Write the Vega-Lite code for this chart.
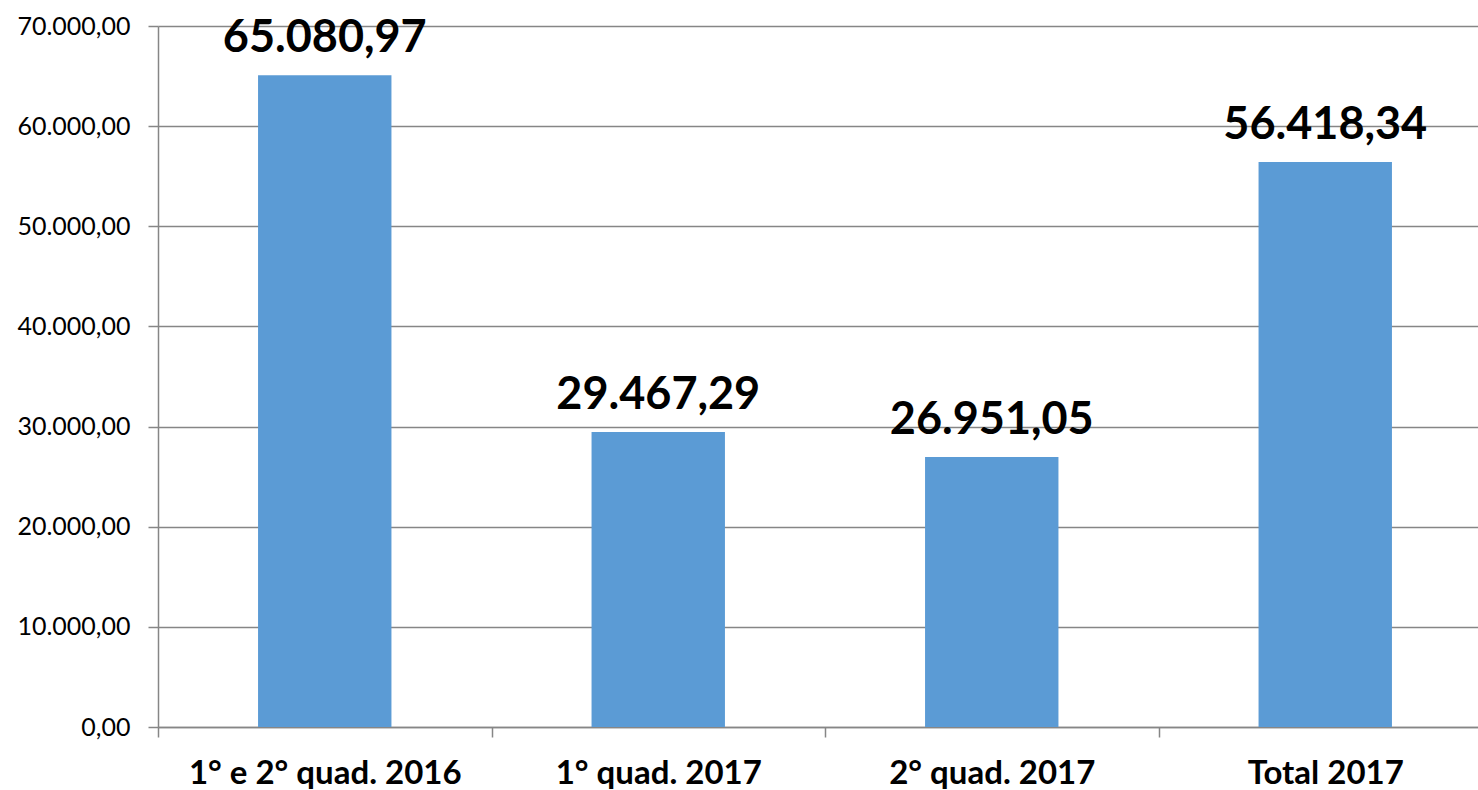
{
  "$schema": "https://vega.github.io/schema/vega-lite/v6.json",
  "width": 1334,
  "height": 701,
  "autosize": {"type": "none"},
  "padding": {"left": 158, "top": 26, "right": 0, "bottom": 63},
  "background": "white",
  "config": {
    "locale": {"number": {"decimal": ",", "thousands": ".", "grouping": [3], "currency": ["", ""]}},
    "view": {"stroke": null},
    "font": "Lato"
  },
  "data": {
    "values": [
      {"periodo": "1° e 2° quad. 2016", "valor": 65080.97},
      {"periodo": "1° quad. 2017", "valor": 29467.29},
      {"periodo": "2° quad. 2017", "valor": 26951.05},
      {"periodo": "Total 2017", "valor": 56418.34}
    ]
  },
  "encoding": {
    "x": {
      "field": "periodo",
      "type": "nominal",
      "sort": null,
      "scale": {"paddingInner": 0, "paddingOuter": 0},
      "axis": {
        "title": null,
        "labelAngle": 0,
        "labelLimit": 0,
        "labelFont": "Lato",
        "labelFontSize": 33,
        "labelFontWeight": "bold",
        "labelColor": "black",
        "labelPadding": 20,
        "tickBand": "extent",
        "tickSize": 10,
        "tickColor": "#868686",
        "domainColor": "#868686",
        "tickWidth": 1.5,
        "domainWidth": 1.5
      }
    },
    "y": {
      "field": "valor",
      "type": "quantitative",
      "scale": {"domain": [0, 70000]},
      "axis": {
        "title": null,
        "values": [0, 10000, 20000, 30000, 40000, 50000, 60000, 70000],
        "format": ",.2f",
        "labelFont": "Lato",
        "labelFontSize": 25,
        "labelColor": "black",
        "labelPadding": 18,
        "tickSize": 10,
        "tickColor": "#868686",
        "domainColor": "#868686",
        "gridColor": "#868686",
        "grid": true,
        "tickWidth": 1.5,
        "domainWidth": 1.5,
        "gridWidth": 1.5
      }
    }
  },
  "layer": [
    {"mark": {"type": "bar", "color": "#5B9BD5", "width": {"band": 0.4}}},
    {
      "mark": {"type": "text", "baseline": "bottom", "dy": -14, "fontSize": 45, "fontWeight": "bold", "font": "Lato", "color": "black"},
      "encoding": {"text": {"field": "valor", "type": "quantitative", "format": ",.2f"}}
    }
  ]
}
